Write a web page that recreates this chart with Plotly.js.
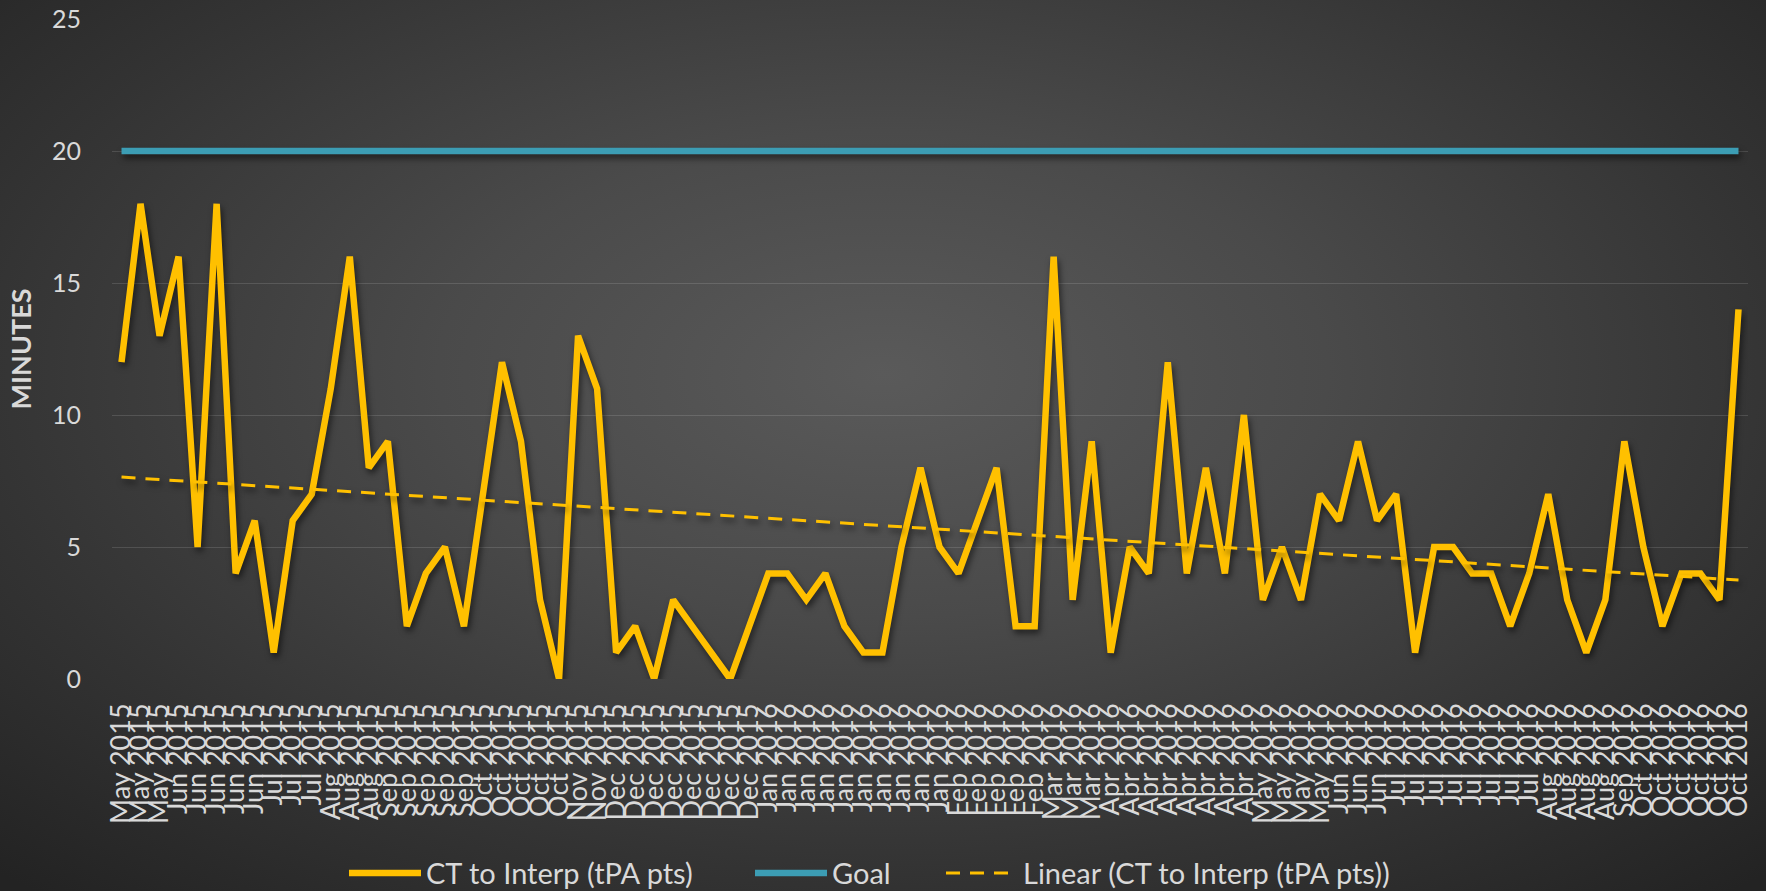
<!DOCTYPE html>
<html>
<head>
<meta charset="utf-8">
<script src="https://cdn.plot.ly/plotly-3.0.1.min.js"></script>
<style>
  html, body { margin: 0; padding: 0; width: 1766px; height: 891px; overflow: hidden; }
  body {
    background: radial-gradient(ellipse 72% 78% at 50% 42%, #5a5a5a 0%, #4a4a4a 35%, #333333 72%, #232323 100%);
  }
  #chart { width: 1766px; height: 891px; }
  #chart .scatterlayer .trace { filter: drop-shadow(2px 4px 3px rgba(0, 0, 0, 0.55)); }
</style>
</head>
<body>
<div id="chart"></div>
<script>
// Monthly reporting slots (several readings per month)
const periodLabels = [
  "May 2015", "May 2015", "May 2015",
  "Jun 2015", "Jun 2015", "Jun 2015", "Jun 2015", "Jun 2015",
  "Jul 2015", "Jul 2015", "Jul 2015",
  "Aug 2015", "Aug 2015", "Aug 2015",
  "Sep 2015", "Sep 2015", "Sep 2015", "Sep 2015", "Sep 2015",
  "Oct 2015", "Oct 2015", "Oct 2015", "Oct 2015", "Oct 2015",
  "Nov 2015", "Nov 2015",
  "Dec 2015", "Dec 2015", "Dec 2015", "Dec 2015", "Dec 2015", "Dec 2015", "Dec 2015", "Dec 2015",
  "Jan 2016", "Jan 2016", "Jan 2016", "Jan 2016", "Jan 2016", "Jan 2016", "Jan 2016", "Jan 2016", "Jan 2016", "Jan 2016",
  "Feb 2016", "Feb 2016", "Feb 2016", "Feb 2016", "Feb 2016",
  "Mar 2016", "Mar 2016", "Mar 2016",
  "Apr 2016", "Apr 2016", "Apr 2016", "Apr 2016", "Apr 2016", "Apr 2016", "Apr 2016", "Apr 2016",
  "May 2016", "May 2016", "May 2016", "May 2016",
  "Jun 2016", "Jun 2016", "Jun 2016",
  "Jul 2016", "Jul 2016", "Jul 2016", "Jul 2016", "Jul 2016", "Jul 2016", "Jul 2016", "Jul 2016",
  "Aug 2016", "Aug 2016", "Aug 2016", "Aug 2016",
  "Sep 2016",
  "Oct 2016", "Oct 2016", "Oct 2016", "Oct 2016", "Oct 2016", "Oct 2016"
];

// CT to interpretation time, minutes (tPA patients)
const ctToInterp = [
  12, 18, 13, 16, 5, 18, 4, 6, 1, 6, 7, 11, 16, 8, 9,
  2, 4, 5, 2, 7, 12, 9, 3, 0, 13, 11, 1, 2, 0,
  3, 2, 1, 0, 2, 4, 4, 3, 4, 2, 1, 1, 5, 8,
  5, 4, 6, 8, 2, 2, 16, 3, 9, 1, 5, 4, 12, 4,
  8, 4, 10, 3, 5, 3, 7, 6, 9, 6, 7, 1, 5, 5,
  4, 4, 2, 4, 7, 3, 1, 3, 9, 5, 2, 4, 4, 3, 14
];

// Target time, minutes
const goalMinutes = 20;

const slot = periodLabels.map((_, i) => i);
const goal = slot.map(() => goalMinutes);

// Least-squares linear trend of the CT to interpretation series
function linearTrend(xs, ys) {
  const n = xs.length;
  const mx = xs.reduce((a, b) => a + b, 0) / n;
  const my = ys.reduce((a, b) => a + b, 0) / n;
  let sxy = 0, sxx = 0;
  for (let i = 0; i < n; i++) {
    sxy += (xs[i] - mx) * (ys[i] - my);
    sxx += (xs[i] - mx) * (xs[i] - mx);
  }
  const slope = sxy / sxx;
  return xs.map(x => my + slope * (x - mx));
}
const trend = linearTrend(slot, ctToInterp);

const gold = "#FFC000";
const teal = "#3C9DB4";
const textColor = "#d9d9d9";

const traces = [
  {
    x: slot, y: ctToInterp, type: "scatter", mode: "lines",
    name: "CT to Interp (tPA pts)",
    legend: "legend",
    line: { color: gold, width: 6.5, shape: "linear" },
    hoverinfo: "skip"
  },
  {
    x: slot, y: goal, type: "scatter", mode: "lines",
    name: "Goal",
    legend: "legend2",
    line: { color: teal, width: 6.5 },
    hoverinfo: "skip"
  },
  {
    x: slot, y: trend, type: "scatter", mode: "lines",
    name: "Linear (CT to Interp (tPA pts))",
    legend: "legend3",
    line: { color: gold, width: 3, dash: "14px,10px" },
    hoverinfo: "skip"
  }
];

// One legend box per series so each entry sits where it belongs along the bottom row
function legendAt(px) {
  return {
    orientation: "h",
    xref: "container",
    x: px / 1766,
    xanchor: "left",
    yref: "container",
    y: 0.02,
    yanchor: "middle",
    itemwidth: 72,
    font: { size: 29, color: textColor },
    bgcolor: "rgba(0,0,0,0)"
  };
}

const layout = {
  width: 1766,
  height: 891,
  paper_bgcolor: "rgba(0,0,0,0)",
  plot_bgcolor: "rgba(0,0,0,0)",
  margin: { l: 112, r: 18, t: 19, b: 212, pad: 0 },
  font: { family: "Lato, 'Open Sans', sans-serif", color: textColor, size: 24 },
  showlegend: true,
  xaxis: {
    range: [-0.5, periodLabels.length - 0.5],
    tickmode: "array",
    tickvals: slot,
    ticktext: periodLabels,
    tickangle: -90,
    ticks: "",
    ticklabelstandoff: 18,
    tickfont: { size: 27, color: textColor },
    showgrid: false,
    zeroline: false,
    showline: false,
    fixedrange: true
  },
  yaxis: {
    range: [0, 25],
    tick0: 0,
    dtick: 5,
    ticks: "",
    ticklabelstandoff: 30,
    tickfont: { size: 25, color: textColor },
    showgrid: true,
    gridcolor: "rgba(255,255,255,0.13)",
    gridwidth: 1,
    zeroline: false,
    showline: false,
    fixedrange: true,
    title: {
      text: "<b>MINUTES</b>",
      standoff: 12,
      font: { size: 27, color: textColor }
    }
  },
  legend: legendAt(344),
  legend2: legendAt(750),
  legend3: legendAt(941)
};

Plotly.newPlot("chart", traces, layout, { staticPlot: true, displayModeBar: false });
</script>
</body>
</html>
